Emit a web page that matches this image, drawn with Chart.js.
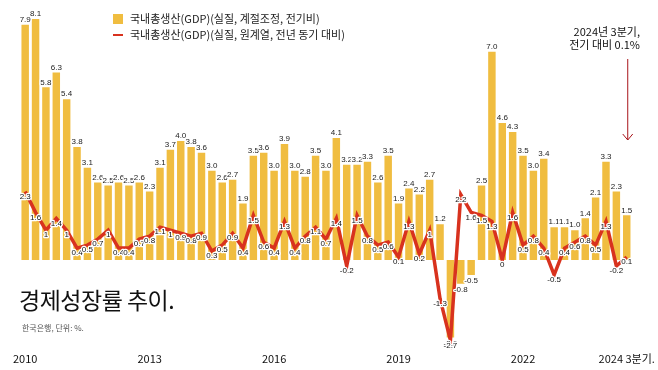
<!DOCTYPE html>
<html>
<head>
<meta charset="utf-8">
<script src="https://cdn.jsdelivr.net/npm/chart.js@4/dist/chart.umd.min.js"></script>
<style>
  html, body { margin: 0; padding: 0; background: #fff; }
  #wrap { position: relative; width: 658px; height: 370px; font-family: "Noto Sans CJK KR", "Noto Sans", sans-serif; }
  #chart { position: absolute; left: 0; top: 0; }
  .legend { position: absolute; left: 113px; font-size: 11px; color: #222; line-height: 16px; }
  .legend span.box { display: inline-block; width: 10px; height: 10px; background: #F0BD40; vertical-align: -1px; margin-right: 7px; }
  .legend span.dash { display: inline-block; width: 10px; height: 2px; background: #D8321E; vertical-align: 3px; margin-right: 7px; }
  #title { position: absolute; left: 19px; top: 282px; font-size: 23px; color: #111; letter-spacing: -0.5px; }
  #source { position: absolute; left: 22px; top: 322px; font-size: 8px; color: #555; }
  #note { position: absolute; right: 18px; top: 25px; font-size: 11px; color: #111; text-align: right; line-height: 13px; }
</style>
</head>
<body>
<div id="wrap">
  <canvas id="chart" width="658" height="370"></canvas>
  <div class="legend" style="top:10px"><span class="box"></span>국내총생산(GDP)(실질, 계절조정, 전기비)</div>
  <div class="legend" style="top:26px"><span class="dash"></span>국내총생산(GDP)(실질, 원계열, 전년 동기 대비)</div>
  <div id="note">2024년 3분기,<br>전기 대비 0.1%</div>
  <div id="title">경제성장률 추이.</div>
  <div id="source">한국은행, 단위: %.</div>
</div>
<script>
const quarters = [
    '2010Q1', '2010Q2', '2010Q3', '2010Q4', '2011Q1', '2011Q2', '2011Q3', '2011Q4',
    '2012Q1', '2012Q2', '2012Q3', '2012Q4', '2013Q1', '2013Q2', '2013Q3', '2013Q4',
    '2014Q1', '2014Q2', '2014Q3', '2014Q4', '2015Q1', '2015Q2', '2015Q3', '2015Q4',
    '2016Q1', '2016Q2', '2016Q3', '2016Q4', '2017Q1', '2017Q2', '2017Q3', '2017Q4',
    '2018Q1', '2018Q2', '2018Q3', '2018Q4', '2019Q1', '2019Q2', '2019Q3', '2019Q4',
    '2020Q1', '2020Q2', '2020Q3', '2020Q4', '2021Q1', '2021Q2', '2021Q3', '2021Q4',
    '2022Q1', '2022Q2', '2022Q3', '2022Q4', '2023Q1', '2023Q2', '2023Q3', '2023Q4',
    '2024Q1', '2024Q2', '2024Q3'
];

// yellow bars
const barValues = [
    7.9, 8.1, 5.8, 6.3, 5.4, 3.8, 3.1, 2.6,
    2.5, 2.6, 2.5, 2.6, 2.3, 3.1, 3.7, 4.0,
    3.8, 3.6, 3.0, 2.6, 2.7, 1.9, 3.5, 3.6,
    3.0, 3.9, 3.0, 2.8, 3.5, 3.0, 4.1, 3.2,
    3.2, 3.3, 2.6, 3.5, 1.9, 2.4, 2.2, 2.7,
    1.2, -2.6, -0.8, -0.5, 2.5, 7.0, 4.6, 4.3,
    3.5, 3.0, 3.4, 1.1, 1.1, 1.0, 1.4, 2.1,
    3.3, 2.3, 1.5
];

// red line
const lineValues = [
    2.3, 1.6, 1, 1.4, 1, 0.4, 0.5, 0.7,
    1, 0.4, 0.4, 0.7, 0.8, 1.1, 1, 0.9,
    0.8, 0.9, 0.3, 0.5, 0.9, 0.4, 1.5, 0.6,
    0.4, 1.3, 0.4, 0.8, 1.1, 0.7, 1.4, -0.2,
    1.5, 0.8, 0.5, 0.6, 0.1, 1.3, 0.2, 1,
    -1.3, -2.7, 2.2, 1.6, 1.5, 1.3, 0, 1.6,
    0.5, 0.8, 0.4, -0.5, 0.4, 0.6, 0.8, 0.5,
    1.3, -0.2, 0.1
];

const tickIndexes = [0, 12, 24, 36, 48, 58];
const tickTexts = ['2010', '2013', '2016', '2019', '2022', '2024 3분기.'];

const barColor = '#F0BD40';
const lineColor = '#D8321E';

// value labels on bars and line points
const valueLabels = {
    id: 'valueLabels',
    afterDatasetsDraw(chart) {
        const ctx = chart.ctx;
        ctx.save();
        ctx.font = '8px "Liberation Sans", Arial, sans-serif';
        ctx.textAlign = 'center';
        ctx.textBaseline = 'middle';
        ctx.lineJoin = 'round';
        ctx.strokeStyle = '#fff';
        ctx.lineWidth = 2.5;

        chart.getDatasetMeta(0).data.forEach((bar, i) => {
            const v = barValues[i];
            const txt = v.toFixed(1);
            const y = v >= 0 ? bar.y - 5 : bar.y + 6;
            ctx.fillStyle = '#222';
            ctx.strokeText(txt, bar.x, y);
            ctx.fillText(txt, bar.x, y);
        });

        chart.getDatasetMeta(1).data.forEach((pt, i) => {
            const txt = String(lineValues[i]);
            const y = pt.y + 5;
            ctx.fillStyle = '#111';
            ctx.strokeText(txt, pt.x, y);
            ctx.fillText(txt, pt.x, y);
        });
        ctx.restore();
    }
};

// dark red arrow pointing at the last quarter
const lastArrow = {
    id: 'lastArrow',
    afterDraw(chart) {
        const ctx = chart.ctx;
        const x = chart.scales.x.getPixelForValue(quarters.length - 1) + 1;
        ctx.save();
        ctx.strokeStyle = '#A8141A';
        ctx.lineWidth = 1;
        ctx.beginPath();
        ctx.moveTo(x, 59);
        ctx.lineTo(x, 140);
        ctx.moveTo(x - 5, 134);
        ctx.lineTo(x, 140);
        ctx.lineTo(x + 5, 134);
        ctx.stroke();
        ctx.restore();
    }
};

const ctx = document.getElementById('chart').getContext('2d');
new Chart(ctx, {
    data: {
        labels: quarters,
        datasets: [
            {
                type: 'bar',
                data: barValues,
                backgroundColor: barColor,
                barPercentage: 0.72,
                categoryPercentage: 1,
                order: 2,
            },
            {
                type: 'line',
                data: lineValues,
                borderColor: lineColor,
                borderWidth: 3.5,
                pointRadius: 0,
                tension: 0,
                borderJoinStyle: 'miter',
                order: 1,
            },
        ],
    },
    options: {
        responsive: false,
        animation: false,
        layout: { padding: { left: 20, right: 14, top: 7, bottom: 1.5 } },
        plugins: { legend: { display: false }, tooltip: { enabled: false } },
        scales: {
            x: {
                grid: { display: false, drawTicks: false },
                border: { display: false },
                ticks: {
                    autoSkip: false,
                    maxRotation: 0,
                    padding: 3,
                    color: '#111',
                    font: { family: '"Noto Sans CJK KR", sans-serif', size: 11 },
                    callback: (val, idx) => {
                        const k = tickIndexes.indexOf(idx);
                        return k >= 0 ? tickTexts[k] : '';
                    },
                },
            },
            y: {
                display: false,
                min: -3,
                max: 8.5,
            },
        },
    },
    plugins: [valueLabels, lastArrow],
});
</script>
</body>
</html>
